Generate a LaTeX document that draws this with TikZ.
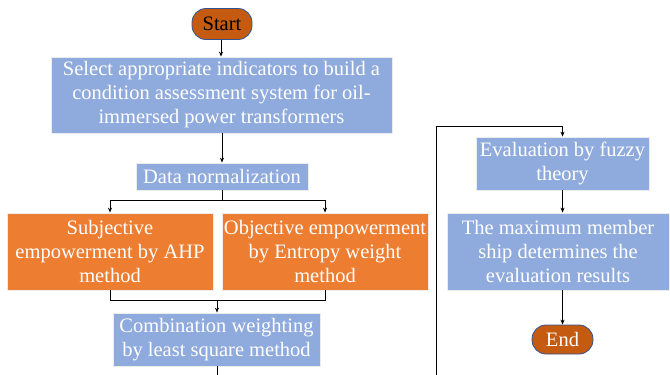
\documentclass[tikz,border=0pt]{standalone}
\usepackage{fontspec}
\setmainfont{Liberation Serif}
\usetikzlibrary{arrows.meta}
\definecolor{bluebox}{HTML}{8FAADC}
\definecolor{orangebox}{HTML}{ED7D31}
\definecolor{termfill}{HTML}{C55A11}
\definecolor{termline}{HTML}{2F5597}
\begin{document}
\begin{tikzpicture}[x=1pt,y=-1pt,
  font=\fontsize{20.5}{24}\selectfont,
  box/.style={draw=white!85!gray, line width=0.8pt, inner sep=0pt, align=center, text=white},
  bluestep/.style={box, fill=bluebox},
  orangestep/.style={box, fill=orangebox},
  term/.style={draw=termline, line width=0.8pt, fill=termfill, rounded corners=14pt, inner sep=0pt},
  conn/.style={draw=black, line width=0.8pt},
  arr/.style={conn, -{Stealth[length=5pt,width=4pt]}}
]
\useasboundingbox (0,0) rectangle (670,375);
\node[term, minimum width=60pt, minimum height=31pt, text=black] (start) at (222,24) {Start};
\node[bluestep, minimum width=341pt, minimum height=76pt] (sel) at (221.5,95) {Select appropriate indicators to build a\\condition assessment system for oil-\\immersed power transformers};
\node[bluestep, minimum width=172pt, minimum height=27pt] (norm) at (222,176.5) {Data normalization};
\node[orangestep, minimum width=206pt, minimum height=77pt] (subj) at (110,251.5) {Subjective\\empowerment by AHP\\method};
\node[orangestep, minimum width=206pt, minimum height=77pt] (obj) at (325,251.5) {Objective empowerment\\by Entropy weight\\method};
\node[bluestep, minimum width=207pt, minimum height=53pt] (comb) at (216.5,339.5) {Combination weighting\\by least square method};
\node[bluestep, minimum width=173pt, minimum height=53pt] (eval) at (562.5,163.5) {Evaluation by fuzzy\\theory};
\node[bluestep, minimum width=222pt, minimum height=77pt] (maxm) at (558,251.5) {The maximum member\\ship determines the\\evaluation results};
\node[term, minimum width=61pt, minimum height=29pt, text=white] (end) at (562.5,339.5) {End};
\coordinate (split) at (222,200);
\coordinate (merge) at (217,300);
\coordinate (cbot) at (217,376);
\coordinate (rbot) at (436,376);
\coordinate (rtop) at (436,126);
\path[arr] (start.south -| 221,0) -- (sel.north -| 221,0);
\path[arr] (sel.south -| norm) -- (norm.north);
\path[conn] (norm.south) -- (split);
\path[arr] (split) -| (subj.north);
\path[arr] (split) -| (obj.north);
\path[conn] (subj.south) |- (merge);
\path[conn] (obj.south) |- (merge);
\path[arr] (merge) -- (comb.north -| merge);
\path[conn] (comb.south -| cbot) -- (cbot);
\path[arr] (rbot) -- (rtop) -| (eval.north);
\path[arr] (eval.south) -- (maxm.north -| eval.south);
\path[arr] (maxm.south -| end) -- (end.north);
\end{tikzpicture}
\end{document}
